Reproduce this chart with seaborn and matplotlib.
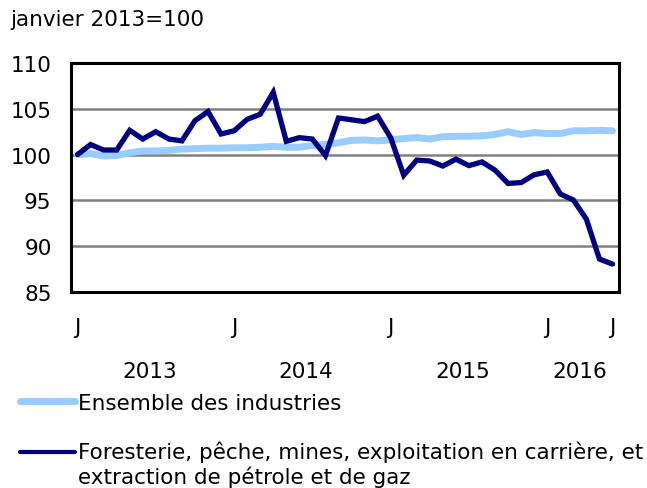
import numpy as np
import pandas as pd
import seaborn as sns
import matplotlib.pyplot as plt
from matplotlib.lines import Line2D
from matplotlib.legend_handler import HandlerLine2D

# monthly index, janvier 2013 = 100 (Jan 2013 .. Jun 2016)
months = pd.date_range("2013-01-01", periods=42, freq="MS")
ensemble = [100.0, 100.1, 99.85, 99.9, 100.2, 100.4, 100.4, 100.45, 100.6, 100.65,
            100.7, 100.7, 100.75, 100.75, 100.8, 100.9, 100.8, 100.8, 101.0, 101.1,
            101.3, 101.55, 101.6, 101.5, 101.6, 101.75, 101.85, 101.7, 101.95, 102.0,
            102.0, 102.05, 102.2, 102.5, 102.2, 102.4, 102.3, 102.3, 102.6, 102.6,
            102.65, 102.6]
foresterie = [100.0, 101.1, 100.5, 100.5, 102.65, 101.7, 102.5, 101.7, 101.5, 103.7,
              104.7, 102.25, 102.6, 103.85, 104.4, 106.8, 101.45, 101.85, 101.7, 99.9,
              104.0, 103.8, 103.6, 104.2, 101.85, 97.75, 99.4, 99.3, 98.75, 99.5,
              98.8, 99.2, 98.3, 96.85, 96.95, 97.8, 98.1, 95.7, 95.05, 92.95,
              88.6, 88.05]
labels = ["Ensemble des industries",
          "Foresterie, pêche, mines, exploitation en carrière, et\nextraction de pétrole et de gaz"]
colors = ["#99ccff", "#000080"]
years = [2013, 2014, 2015, 2016]
yticks = [85, 90, 95, 100, 105, 110]

df = pd.DataFrame({"mois": np.arange(len(months)), "date": months,
                   labels[0]: ensemble, labels[1]: foresterie})
long = df.melt(id_vars=["mois", "date"], var_name="serie", value_name="indice")

sns.set_style("white")
plt.rcParams["font.family"] = ["DejaVu Sans"]
plt.rcParams["font.size"] = 15.5
plt.rcParams["text.color"] = "black"
plt.rcParams["xtick.color"] = "black"
plt.rcParams["ytick.color"] = "black"


class FirstLineHandler(HandlerLine2D):
    # put the legend line next to the first text line of a two-line label
    def __init__(self, shift, **kw):
        super().__init__(**kw)
        self.shift = shift

    def create_artists(self, legend, orig_handle, xdescent, ydescent,
                       width, height, fontsize, trans):
        arts = super().create_artists(legend, orig_handle, xdescent, ydescent,
                                      width, height, fontsize, trans)
        for a in arts:
            a.set_ydata(np.asarray(a.get_ydata()) + self.shift)
        return arts


fig = plt.figure(figsize=(6.47, 4.89), dpi=100)
ax = fig.add_axes([71 / 647, 1 - 293 / 489, 548 / 647, 229 / 489])

for y in yticks[1:-1]:
    ax.axhline(y, color="#808080", lw=1.8, zorder=0)

sns.lineplot(data=long, x="mois", y="indice", hue="serie", palette=colors,
             ax=ax, legend=False, zorder=3)
for line, lw in zip(ax.lines[-2:], [5.0, 3.8]):
    line.set_linewidth(lw)
    line.set_solid_capstyle("round")
    line.set_solid_joinstyle("miter")

ax.set_xlim(-0.5, len(months) - 0.5)
ax.set_ylim(85, 110)
ax.set_yticks(yticks)
ax.set_xlabel("")
ax.set_ylabel("")

# "J" labels on January and on the last month (juin)
jpos = [i for i, d in enumerate(months) if d.month == 1] + [len(months) - 1]
ax.set_xticks(jpos)
ax.set_xticklabels(["J"] * len(jpos))
ax.set_xticks(np.arange(-0.5, len(months)), minor=True)
ax.tick_params(axis="x", which="major", length=0, pad=18)
ax.tick_params(axis="x", which="minor", direction="in", length=4, width=1.6, color="black")
ax.tick_params(axis="y", length=0, pad=14)

for s in ax.spines.values():
    s.set_visible(True)
    s.set_color("black")
    s.set_linewidth(2.2)

trans = ax.get_xaxis_transform()
for yr in years:
    idx = [i for i, d in enumerate(months) if d.year == yr]
    ax.text(np.mean(idx), -0.343, str(yr), transform=trans, ha="center", va="center")

fig.text(10 / 647, 1 - 20 / 489, "janvier 2013=100", ha="left", va="center")

handles = [Line2D([], [], color=colors[0], lw=5.0, solid_capstyle="round"),
           Line2D([], [], color=colors[1], lw=3.0, solid_capstyle="round")]
fig.legend(handles, labels, loc="upper left", bbox_to_anchor=(20 / 647, 1 - 394 / 489),
           frameon=False, handlelength=2.55, handletextpad=0.14, labelspacing=1.28,
           borderaxespad=0, borderpad=0,
           handler_map={handles[1]: FirstLineHandler(9.0)})

fig.savefig("out.png", dpi=100)
